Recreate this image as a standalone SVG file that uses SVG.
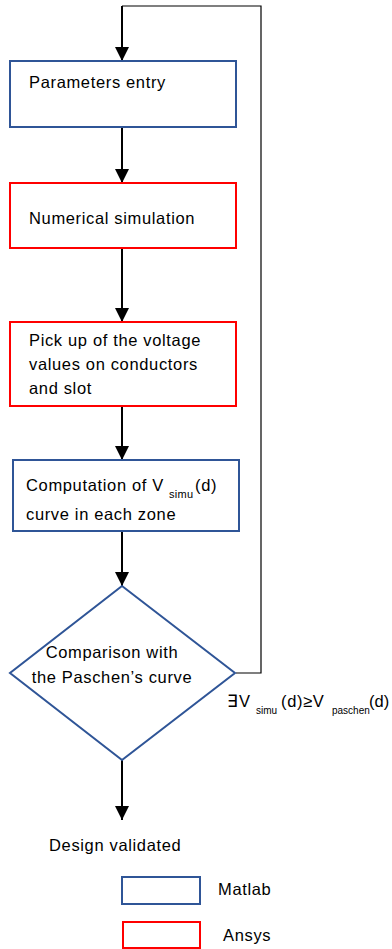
<svg xmlns="http://www.w3.org/2000/svg" width="392" height="949" viewBox="0 0 392 949">
<style>
.blue{fill:#fff;stroke:#2F5597;stroke-width:2}
.red{fill:#fff;stroke:#FF0000;stroke-width:2}
.t{font-family:"Liberation Sans",Arial,sans-serif;font-size:16.5px;letter-spacing:0.65px;fill:#000}
.s{font-size:11px;letter-spacing:0.3px}
.s2{font-size:10px;letter-spacing:0}
.arr{stroke:#000;stroke-width:2;fill:none}
.loop{stroke:#000;stroke-width:1.2;fill:none}
</style>
<defs>
<marker id="ah" viewBox="0 0 14 14" refX="14" refY="7" markerWidth="14" markerHeight="14" markerUnits="userSpaceOnUse" orient="auto">
<path d="M0,0 L14,7 L0,14 Z" fill="#000"/>
</marker>
</defs>
<rect width="392" height="949" fill="#fff"/>
<g id="connectors">
<path class="loop" d="M236,673 H261 V6 H122"/>
<line class="arr" x1="122" y1="6" x2="122" y2="61" marker-end="url(#ah)"/>
<line class="arr" x1="122" y1="127" x2="122" y2="183" marker-end="url(#ah)"/>
<line class="arr" x1="122" y1="248" x2="122" y2="322" marker-end="url(#ah)"/>
<line class="arr" x1="122" y1="406" x2="122" y2="460" marker-end="url(#ah)"/>
<line class="arr" x1="122" y1="531" x2="122" y2="586" marker-end="url(#ah)"/>
<line class="arr" x1="122" y1="760" x2="122" y2="820" marker-end="url(#ah)"/>
<text class="t" x="227" y="707">∃<tspan x="239">V</tspan><tspan class="s2" x="256" dy="7">simu</tspan><tspan x="281" dy="-7">(d)≥V</tspan><tspan class="s2" x="332" dy="7">paschen</tspan><tspan x="369" dy="-7" letter-spacing="0">(d)</tspan></text>
</g>
<g id="n1">
<rect class="blue" x="10" y="61" width="226" height="66"/>
<text class="t" x="29" y="88">Parameters entry</text>
</g>
<g id="n2">
<rect class="red" x="10" y="183" width="226" height="65"/>
<text class="t" x="29" y="224">Numerical simulation</text>
</g>
<g id="n3">
<rect class="red" x="10" y="322" width="226" height="84"/>
<text class="t" x="29" y="346">Pick up of the voltage</text>
<text class="t" x="29" y="370">values on conductors</text>
<text class="t" x="29" y="394">and slot</text>
</g>
<g id="n4">
<rect class="blue" x="13" y="460" width="226" height="71"/>
<text class="t" x="26" y="491">Computation of V<tspan class="s" x="169" dy="7">simu</tspan><tspan x="195" dy="-7">(d)</tspan></text>
<text class="t" x="26" y="520">curve in each zone</text>
</g>
<g id="n5">
<polygon class="blue" points="122,586 235,673 122,760 10,673"/>
<text class="t" x="112" y="658" text-anchor="middle">Comparison with</text>
<text class="t" x="112" y="683" text-anchor="middle">the Paschen’s curve</text>
</g>
<g id="n6">
<text class="t" x="49" y="851">Design validated</text>
</g>
<g id="legend-matlab">
<rect class="blue" x="122" y="877" width="78" height="27"/>
<text class="t" x="218" y="895">Matlab</text>
</g>
<g id="legend-ansys">
<rect class="red" x="123" y="922" width="77" height="26"/>
<text class="t" x="223" y="941">Ansys</text>
</g>
</svg>
